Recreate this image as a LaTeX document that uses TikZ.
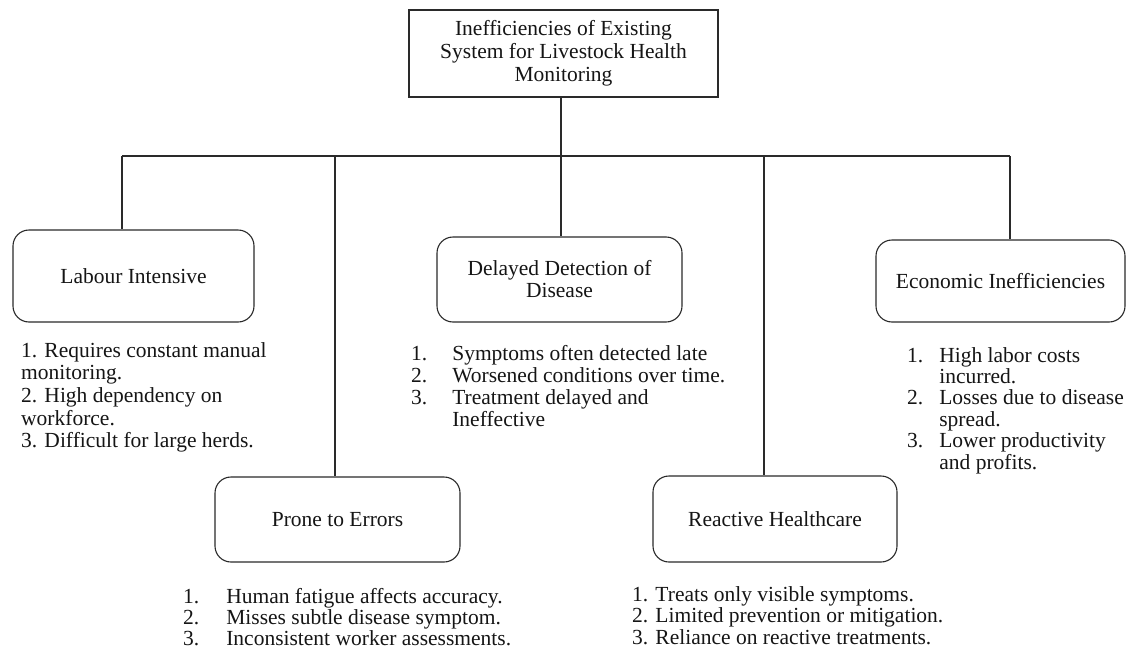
\documentclass[tikz,border=0pt]{standalone}
\usepackage{fontspec}
\setmainfont{Liberation Serif}
\definecolor{ink}{HTML}{151515}
\definecolor{edge}{HTML}{2a2a2a}
\begin{document}
\begin{tikzpicture}[x=1pt,y=-1pt,
  titlebox/.style={draw=edge, line width=1.1pt, minimum width=309pt, minimum height=87pt,
    align=center, text=ink, font=\fontsize{21.5}{23}\selectfont, inner sep=0pt},
  catbox/.style={draw=edge, line width=1.1pt, rounded corners=16pt, align=center, text=ink,
    font=\fontsize{21.5}{22}\selectfont, inner sep=0pt},
  items/.style={anchor=base west, inner sep=0pt, text=ink},
  link/.style={draw=edge, line width=1.1pt}]
\useasboundingbox[fill=white] (0,0) rectangle (1132,653);

% root and the five categories
\node[titlebox] (root) at (563.5,53.5) {Inefficiencies of Existing\\System for Livestock Health\\Monitoring};
\node[catbox, minimum width=241pt, minimum height=92pt] (labour) at (133.5,276) {Labour Intensive};
\node[catbox, minimum width=245pt, minimum height=85pt] (delayed) at (559.5,279.5) {Delayed Detection of\\Disease};
\node[catbox, minimum width=249pt, minimum height=82pt] (economic) at (1000.5,281) {Economic Inefficiencies};
\node[catbox, minimum width=245pt, minimum height=85pt] (prone) at (337.5,519.5) {Prone to Errors};
\node[catbox, minimum width=244pt, minimum height=86pt] (reactive) at (775,519) {Reactive Healthcare};

% branch points on the horizontal bus
\coordinate (b1) at (122,156);
\coordinate (b2) at (335,156);
\coordinate (b3) at (561,156);
\coordinate (b4) at (764,156);
\coordinate (b5) at (1010,156);

\draw[link] (b3 |- root.south) -- (b3);
\draw[link] (b1) -- (b5);
\draw[link] (b1) -- (b1 |- labour.north);
\draw[link] (b2) -- (b2 |- prone.north);
\draw[link] (b3) -- (b3 |- delayed.north);
\draw[link] (b4) -- (b4 |- reactive.north);
\draw[link] (b5) -- (b5 |- economic.north);

% item lists
\node[items] (labourlist) at (21,357) {\fontsize{21.5}{22.7}\selectfont
  \begin{tabular}[t]{@{}l@{}}
  1. Requires constant manual\\
  monitoring.\\
  2. High dependency on\\
  workforce.\\
  3. Difficult for large herds.
  \end{tabular}};

\node[items] (delayedlist) at (411,360) {\fontsize{21.5}{22}\selectfont
  \begin{tabular}[t]{@{}l@{\hspace{25pt}}l@{}}
  1. & Symptoms often detected late\\
  2. & Worsened conditions over time.\\
  3. & Treatment delayed and\\
     & Ineffective
  \end{tabular}};

\node[items] (economiclist) at (907,362) {\fontsize{21.5}{21.4}\selectfont
  \begin{tabular}[t]{@{}l@{\hspace{16pt}}l@{}}
  1. & High labor costs\\
     & incurred.\\
  2. & Losses due to disease\\
     & spread.\\
  3. & Lower productivity\\
     & and profits.
  \end{tabular}};

\node[items] (pronelist) at (183,603) {\fontsize{21.5}{20.5}\selectfont
  \begin{tabular}[t]{@{}l@{\hspace{27pt}}l@{}}
  1. & Human fatigue affects accuracy.\\
  2. & Misses subtle disease symptom.\\
  3. & Inconsistent worker assessments.
  \end{tabular}};

\node[items] (reactivelist) at (632,601) {\fontsize{21.5}{21.5}\selectfont
  \begin{tabular}[t]{@{}l@{}}
  1. Treats only visible symptoms.\\
  2. Limited prevention or mitigation.\\
  3. Reliance on reactive treatments.
  \end{tabular}};
\end{tikzpicture}
\end{document}
